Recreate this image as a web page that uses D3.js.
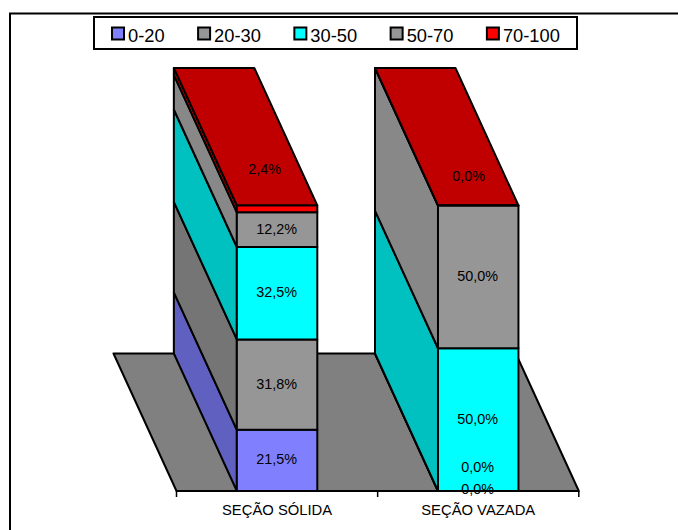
<!DOCTYPE html>
<html>
<head>
<meta charset="utf-8">
<style>
  html, body { margin: 0; padding: 0; background: #fff; }
  svg { display: block; }
  text { font-family: "Liberation Sans", Arial, sans-serif; fill: #000; }
</style>
<script src="https://cdn.jsdelivr.net/npm/d3@7"></script>
</head>
<body>
<svg id="chart" width="678" height="530"></svg>
<script>
// Share of each class per cross-section type (percent)
const categories = ["SEÇÃO SÓLIDA", "SEÇÃO VAZADA"];
const seriesNames = ["0-20", "20-30", "30-50", "50-70", "70-100"];
const solida = [21.5, 31.8, 32.5, 12.2, 2.4];
const vazada = [0.0, 0.0, 50.0, 50.0, 0.0];
const frontColors = ["#8080ff", "#969696", "#00ffff", "#969696", "#ff0000"];
const sideColors = ["#6060c0", "#757575", "#00c0c0", "#888888", "#c00000"];
const topColor = "#c00000";
const floorColor = "#808080";

const fmt = v => v.toFixed(1).replace(".", ",") + "%";

const svg = d3.select("#chart");
const W = 2;

// Outer frame: only the top and left edges fall inside the page
svg.append("path")
  .attr("d", "M10,530V13.5H678")
  .attr("fill", "none").attr("stroke", "#000").attr("stroke-width", W);

// Scales for the front plane and the oblique depth vector
const x = d3.scaleBand().domain(categories).range([176.5, 578.8])
  .paddingInner(0.6).paddingOuter(0.3);
const y = d3.scaleLinear().domain([0, 1]).range([491, 205.5]);
const depth = { dx: -63, dy: -137.5 };

const rows = categories.map((c, i) => {
  const row = { category: c };
  seriesNames.forEach((s, j) => { row[s] = (i === 0 ? solida : vazada)[j]; });
  return row;
});
const stacked = d3.stack().keys(seriesNames).offset(d3.stackOffsetExpand)(rows);

const line = d3.line();
const outline = { stroke: "#000", "stroke-width": W, "stroke-linejoin": "round" };
function poly(g, pts, fill) {
  const p = g.append("path").attr("d", line(pts) + "Z").attr("fill", fill);
  Object.entries(outline).forEach(([k, v]) => p.attr(k, v));
  return p;
}

// Floor parallelogram
const [x0, x1] = x.range();
const yBase = y(0);
poly(svg.append("g"), [
  [x0, yBase], [x0 + depth.dx, yBase + depth.dy],
  [x1 + depth.dx, yBase + depth.dy], [x1, yBase]
], floorColor);

// Bars: left side faces, then the top, then the front faces
categories.forEach((c, i) => {
  const g = svg.append("g").attr("class", "bar");
  const left = x(c), right = left + x.bandwidth();
  stacked.forEach((layer, s) => {
    const yA = y(layer[i][0]), yB = y(layer[i][1]);
    poly(g, [
      [left, yA], [left, yB],
      [left + depth.dx, yB + depth.dy], [left + depth.dx, yA + depth.dy]
    ], sideColors[s]);
  });
  const yTop = y(1);
  poly(g, [
    [left, yTop], [right, yTop],
    [right + depth.dx, yTop + depth.dy], [left + depth.dx, yTop + depth.dy]
  ], topColor);
  stacked.forEach((layer, s) => {
    const yA = y(layer[i][0]), yB = y(layer[i][1]);
    poly(g, [[left, yA], [right, yA], [right, yB], [left, yB]], frontColors[s]);
  });
});

// Value labels sit mid-segment; thin and empty segments get nudged clear of each other
const nudges = {
  "0|4": [-12, -39],
  "1|0": [0, -1],
  "1|1": [0, -23],
  "1|4": [-9, -29]
};
const labels = svg.append("g").attr("class", "labels");
categories.forEach((c, i) => {
  stacked.forEach((layer, s) => {
    const mid = (y(layer[i][0]) + y(layer[i][1])) / 2;
    const [nx, ny] = nudges[i + "|" + s] || [0, 0];
    labels.append("text")
      .attr("x", x(c) + x.bandwidth() / 2 + nx - 0.5)
      .attr("y", mid + ny)
      .attr("dy", "0.28em")
      .attr("text-anchor", "middle")
      .attr("font-size", 14.4)
      .text(fmt((i === 0 ? solida : vazada)[s]));
  });
});

// Category axis with separators between the two bars
const axis = d3.axisBottom(x).tickSize(0).tickPadding(13);
const axisG = svg.append("g").attr("transform", `translate(0,${yBase})`).call(axis);
axisG.select(".domain").remove();
axisG.selectAll("text")
  .attr("font-size", 14.8)
  .style("font-family", '"Liberation Sans", Arial, sans-serif');
const tickPos = [x0, x0 + x.step(), x1];
axisG.selectAll(".sep").data(tickPos).join("line").attr("class", "sep")
  .attr("x1", d => d).attr("x2", d => d).attr("y1", 0).attr("y2", 6)
  .attr("stroke", "#000").attr("stroke-width", 1.5);
axisG.append("line").attr("x1", x0).attr("x2", x1).attr("y1", 0).attr("y2", 0)
  .attr("stroke", "#000").attr("stroke-width", W);

// Legend
const legend = svg.append("g").attr("class", "legend");
legend.append("rect").attr("x", 94).attr("y", 17).attr("width", 483).attr("height", 32)
  .attr("fill", "#fff").attr("stroke", "#000").attr("stroke-width", W);
let cursor = 112;
seriesNames.forEach((name, s) => {
  legend.append("rect").attr("x", cursor).attr("y", 27.5).attr("width", 12).attr("height", 12)
    .attr("fill", frontColors[s]).attr("stroke", "#000").attr("stroke-width", W);
  const t = legend.append("text").attr("x", cursor + 16).attr("y", 41.5)
    .attr("font-size", 18.3).text(name);
  cursor += 16 + t.node().getComputedTextLength() + 33.5;
});
</script>
</body>
</html>
